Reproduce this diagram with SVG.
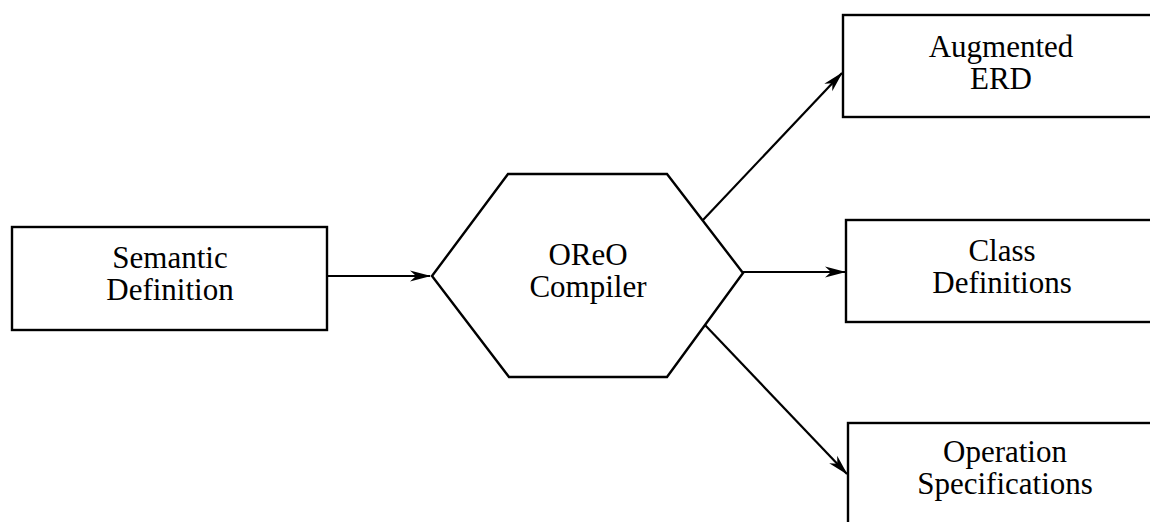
<svg xmlns="http://www.w3.org/2000/svg" width="1150" height="522" viewBox="0 0 1150 522">
  <style>
    .shape { fill: #ffffff; stroke: #000000; stroke-width: 2.4; stroke-linejoin: miter; }
    .edge { fill: none; stroke: #000000; stroke-width: 2.2; }
    .label { font-family: "Liberation Serif", "Times New Roman", serif; font-size: 31px; fill: #000000; text-anchor: middle; }
  </style>
  <defs>
    <marker id="arrow" viewBox="-22 -7 24 14" refX="0" refY="0" markerWidth="24" markerHeight="14" markerUnits="userSpaceOnUse" orient="auto">
      <path d="M1,0 L-20,-5.5 L-14,0 L-20,5.5 Z" fill="#000000"/>
    </marker>
  </defs>
  <rect x="0" y="0" width="1150" height="522" fill="#ffffff"/>

  <!-- flow from the definition through the compiler to its three outputs -->
  <g id="connectors">
    <line class="edge" x1="328" y1="276" x2="430" y2="276" marker-end="url(#arrow)"/>
    <line class="edge" x1="703" y1="220" x2="842" y2="73" marker-end="url(#arrow)"/>
    <line class="edge" x1="743" y1="272" x2="845" y2="272" marker-end="url(#arrow)"/>
    <line class="edge" x1="705" y1="325" x2="847" y2="474" marker-end="url(#arrow)"/>
  </g>

  <g id="semantic-definition">
    <rect class="shape" x="12" y="227" width="315" height="103"/>
    <text class="label" x="170" y="268">Semantic</text>
    <text class="label" x="170" y="300">Definition</text>
  </g>

  <g id="oreo-compiler">
    <polygon class="shape" points="432,276 508,174 667,174 743,273 667,377 509,377"/>
    <text class="label" x="588" y="265">OReO</text>
    <text class="label" x="588" y="297">Compiler</text>
  </g>

  <g id="augmented-erd">
    <rect class="shape" x="843" y="15" width="330" height="102"/>
    <text class="label" x="1001" y="57">Augmented</text>
    <text class="label" x="1001" y="89">ERD</text>
  </g>

  <g id="class-definitions">
    <rect class="shape" x="846" y="220" width="330" height="102"/>
    <text class="label" x="1002" y="261">Class</text>
    <text class="label" x="1002" y="293">Definitions</text>
  </g>

  <g id="operation-specifications">
    <rect class="shape" x="848" y="423" width="330" height="130"/>
    <text class="label" x="1005" y="462">Operation</text>
    <text class="label" x="1005" y="494">Specifications</text>
  </g>
</svg>
